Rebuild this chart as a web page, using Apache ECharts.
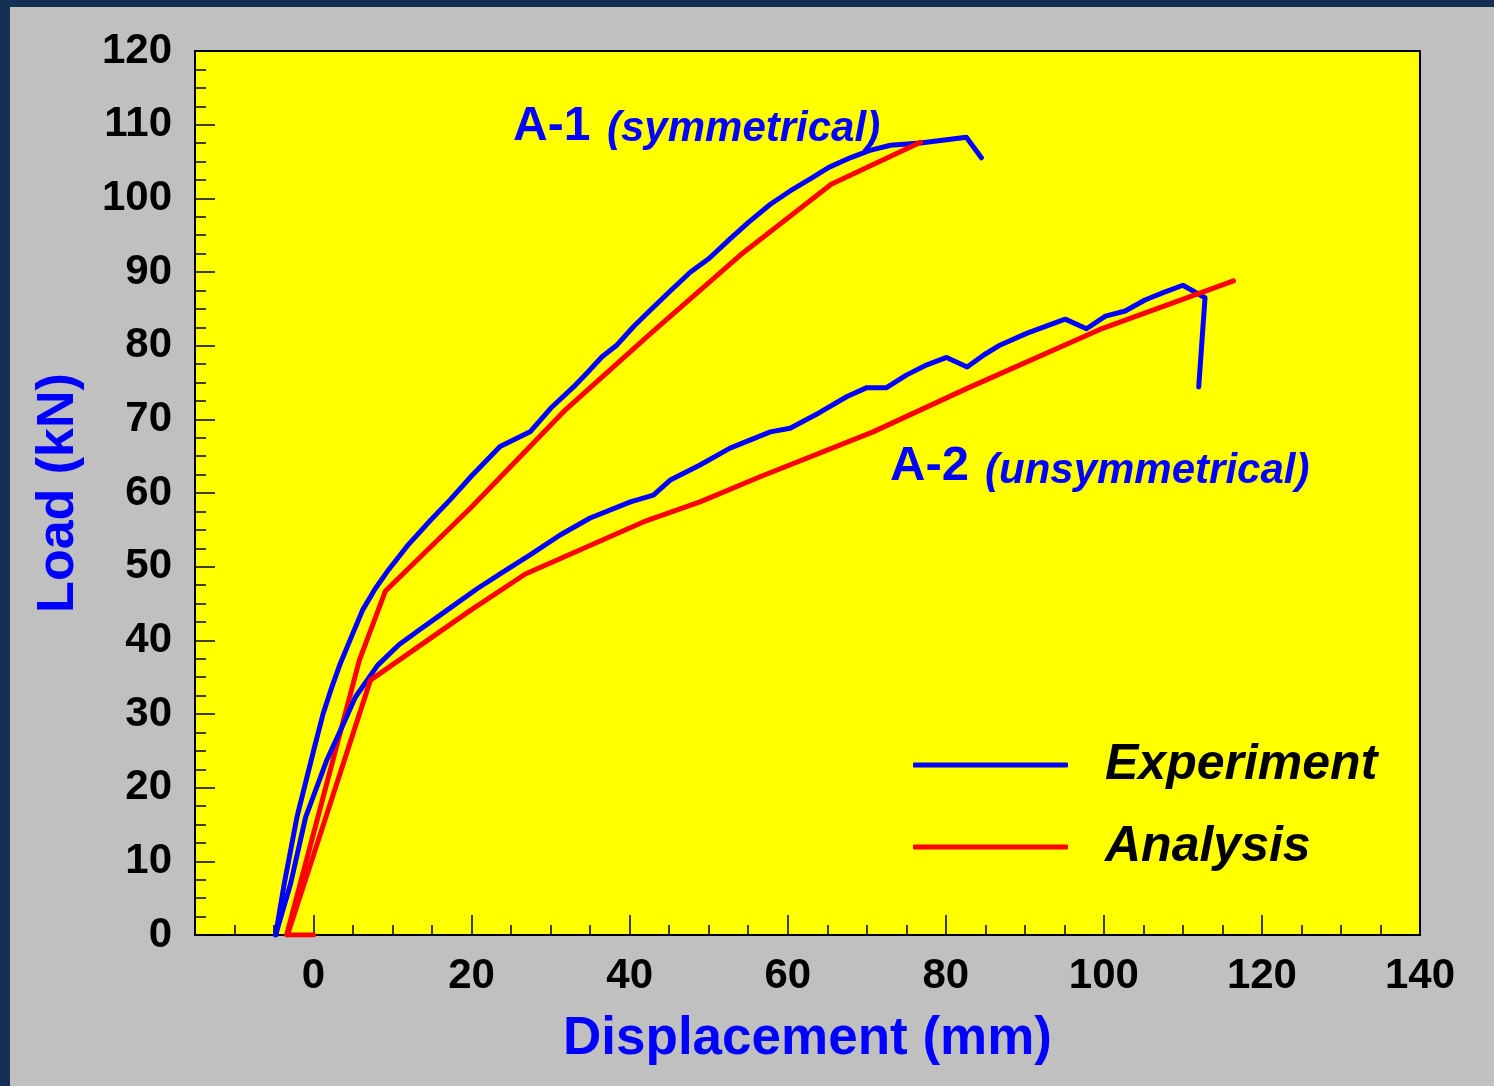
<!DOCTYPE html>
<html>
<head>
<meta charset="utf-8">
<title>Load - Displacement</title>
<script src="https://cdn.jsdelivr.net/npm/echarts@6/dist/echarts.min.js"></script>
<style>
  html, body { margin: 0; padding: 0; width: 1494px; height: 1086px; overflow: hidden; background: #142f54; }
  #chart { position: absolute; left: 10px; top: 7px; width: 1484px; height: 1079px; }
</style>
</head>
<body>
<div id="chart"></div>
<script>
// Load–displacement curves, [displacement (mm), load (kN)]
const a1Experiment = [
  [-4.8, 0], [-3.7, 7], [-2.1, 16], [0, 25], [1.2, 30], [2.2, 33.3], [3.4, 36.9],
  [4.8, 40.5], [6.2, 44.1], [7.8, 47], [9.3, 49.3], [12, 53], [14.8, 56.3],
  [17.3, 59.1], [19.9, 62.2], [21.7, 64.2], [23.6, 66.3], [27.4, 68.3], [30, 71.5],
  [32.9, 74.4], [34.6, 76.3], [36.5, 78.5], [38.4, 80.1], [40.5, 82.6], [42.6, 84.8],
  [45.3, 87.6], [47.7, 90], [50, 91.8], [52.7, 94.5], [55.1, 96.8], [57.8, 99.2],
  [60.3, 101], [62.8, 102.6], [65.2, 104.2], [67.9, 105.5], [70.4, 106.5], [73, 107.2],
  [76.8, 107.5], [82.6, 108.3], [84.5, 105.5]
];
const a1Analysis = [
  [-3.4, 0], [5.8, 37.3], [9.1, 46.7], [19.9, 58], [31.7, 71.1], [42.6, 81.6],
  [54, 92.3], [65.5, 101.9], [76.8, 107.6]
];
const a2Experiment = [
  [-4.8, 0], [-2.9, 7], [-1, 16], [1.7, 23.8], [3.8, 28.7], [5.3, 32.3], [8.1, 36.6],
  [10.8, 39.4], [13.5, 41.5], [16.9, 44.1], [20.7, 47], [24, 49.3], [27.4, 51.6],
  [31.2, 54.3], [35, 56.6], [40.1, 58.8], [43, 59.7], [45.2, 61.8], [48.9, 63.8],
  [52.7, 66.1], [57.8, 68.3], [60.3, 68.8], [64, 70.9], [67.5, 73.1], [70, 74.3],
  [72.5, 74.3], [75, 76], [77.6, 77.4], [80.1, 78.4], [82.7, 77.1], [84.9, 78.8],
  [86.9, 80.1], [90.3, 81.7], [95.1, 83.6], [97.8, 82.3], [100.2, 84], [102.7, 84.7],
  [105.2, 86.2], [107.5, 87.2], [110, 88.2], [112.8, 86.5], [112, 74.4]
];
const a2Analysis = [
  [0, 0], [-3.3, 0], [7.2, 34.6], [19.9, 44.1], [26.8, 49], [41.8, 56.1], [48.9, 58.8],
  [56.5, 62.2], [70.8, 68.3], [82.7, 74.2], [99.5, 82.2], [116.4, 88.8]
];

// Axis ticks and labels
const xLabelValues = [0, 20, 40, 60, 80, 100, 120, 140];
const xMinorTickValues = [-10, -5, 5, 10, 15, 25, 30, 35, 45, 50, 55, 65, 70, 75, 85, 90, 95,
  105, 110, 115, 125, 130, 135];

const FONT = 'Arial, "Liberation Sans", Helvetica, sans-serif';
const BLUE = '#0000ff';
const RED = '#ff0000';

const chart = echarts.init(document.getElementById('chart'), null, { renderer: 'canvas' });

function lineSeries(name, data, color) {
  return {
    type: 'line',
    name: name,
    data: data,
    xAxisIndex: 0,
    yAxisIndex: 0,
    showSymbol: false,
    symbol: 'none',
    smooth: false,
    animation: false,
    lineStyle: { color: color, width: 5, cap: 'round', join: 'round' },
    itemStyle: { color: color },
    z: 3
  };
}

chart.setOption({
  backgroundColor: '#c0c0c0',
  animation: false,
  textStyle: { fontFamily: FONT },
  grid: {
    left: 185, top: 44, right: 74, bottom: 151,
    show: true,
    backgroundColor: '#ffff00',
    borderColor: '#000000',
    borderWidth: 2
  },
  legend: {
    orient: 'vertical',
    left: 898,
    top: 716,
    itemWidth: 155,
    itemHeight: 5,
    itemGap: 8,
    icon: 'roundRect',
    selectedMode: false,
    data: ['Experiment', 'Analysis'],
    textStyle: {
      fontFamily: FONT,
      fontSize: 50,
      fontWeight: 'bold',
      fontStyle: 'italic',
      color: '#000000',
      lineHeight: 56,
      padding: [18, 0, 0, 32]
    }
  },
  xAxis: [
    {
      type: 'value',
      min: -15,
      max: 140,
      position: 'bottom',
      name: 'Displacement (mm)',
      nameLocation: 'middle',
      nameGap: 78,
      nameTextStyle: { fontFamily: FONT, fontSize: 53, fontWeight: 'bold', color: BLUE },
      axisLine: { show: true, onZero: false, lineStyle: { color: '#000000', width: 2 } },
      axisTick: {
        show: true, inside: true, length: 20,
        customValues: xLabelValues,
        lineStyle: { color: '#000000', width: 1.5 }
      },
      axisLabel: {
        show: true, margin: 20,
        customValues: xLabelValues,
        fontFamily: FONT, fontSize: 42, fontWeight: 'bold', color: '#000000'
      },
      splitLine: { show: false }
    },
    {
      type: 'value',
      min: -15,
      max: 140,
      position: 'bottom',
      axisLine: { show: false },
      axisTick: {
        show: true, inside: true, length: 10,
        customValues: xMinorTickValues,
        lineStyle: { color: '#000000', width: 1.5 }
      },
      axisLabel: { show: false },
      splitLine: { show: false }
    }
  ],
  yAxis: {
    type: 'value',
    min: 0,
    max: 120,
    interval: 10,
    name: 'Load (kN)',
    nameLocation: 'middle',
    nameGap: 110,
    nameRotate: 90,
    nameTextStyle: { fontFamily: FONT, fontSize: 52, fontWeight: 'bold', color: BLUE },
    axisLine: { show: true, onZero: false, lineStyle: { color: '#000000', width: 2 } },
    axisTick: { show: true, inside: true, length: 20, lineStyle: { color: '#000000', width: 1.5 } },
    minorTick: { show: true, splitNumber: 4, length: 11, lineStyle: { color: '#000000', width: 1.5 } },
    axisLabel: {
      margin: 23,
      fontFamily: FONT, fontSize: 42, fontWeight: 'bold', color: '#000000'
    },
    splitLine: { show: false },
    minorSplitLine: { show: false }
  },
  graphic: [
    { type: 'text', left: 503, top: 96, z: 10,
      style: { text: 'A-1', fill: BLUE, font: 'bold 48px ' + FONT } },
    { type: 'text', left: 597, top: 101, z: 10,
      style: { text: '(symmetrical)', fill: BLUE, font: 'italic bold 42px ' + FONT } },
    { type: 'text', left: 880, top: 435, z: 10,
      style: { text: 'A-2', fill: BLUE, font: 'bold 49px ' + FONT } },
    { type: 'text', left: 975, top: 443, z: 10,
      style: { text: '(unsymmetrical)', fill: BLUE, font: 'italic bold 42px ' + FONT } }
  ],
  series: [
    lineSeries('Experiment', a1Experiment, BLUE),
    lineSeries('Analysis', a1Analysis, RED),
    lineSeries('Experiment', a2Experiment, BLUE),
    lineSeries('Analysis', a2Analysis, RED)
  ]
});
</script>
</body>
</html>
